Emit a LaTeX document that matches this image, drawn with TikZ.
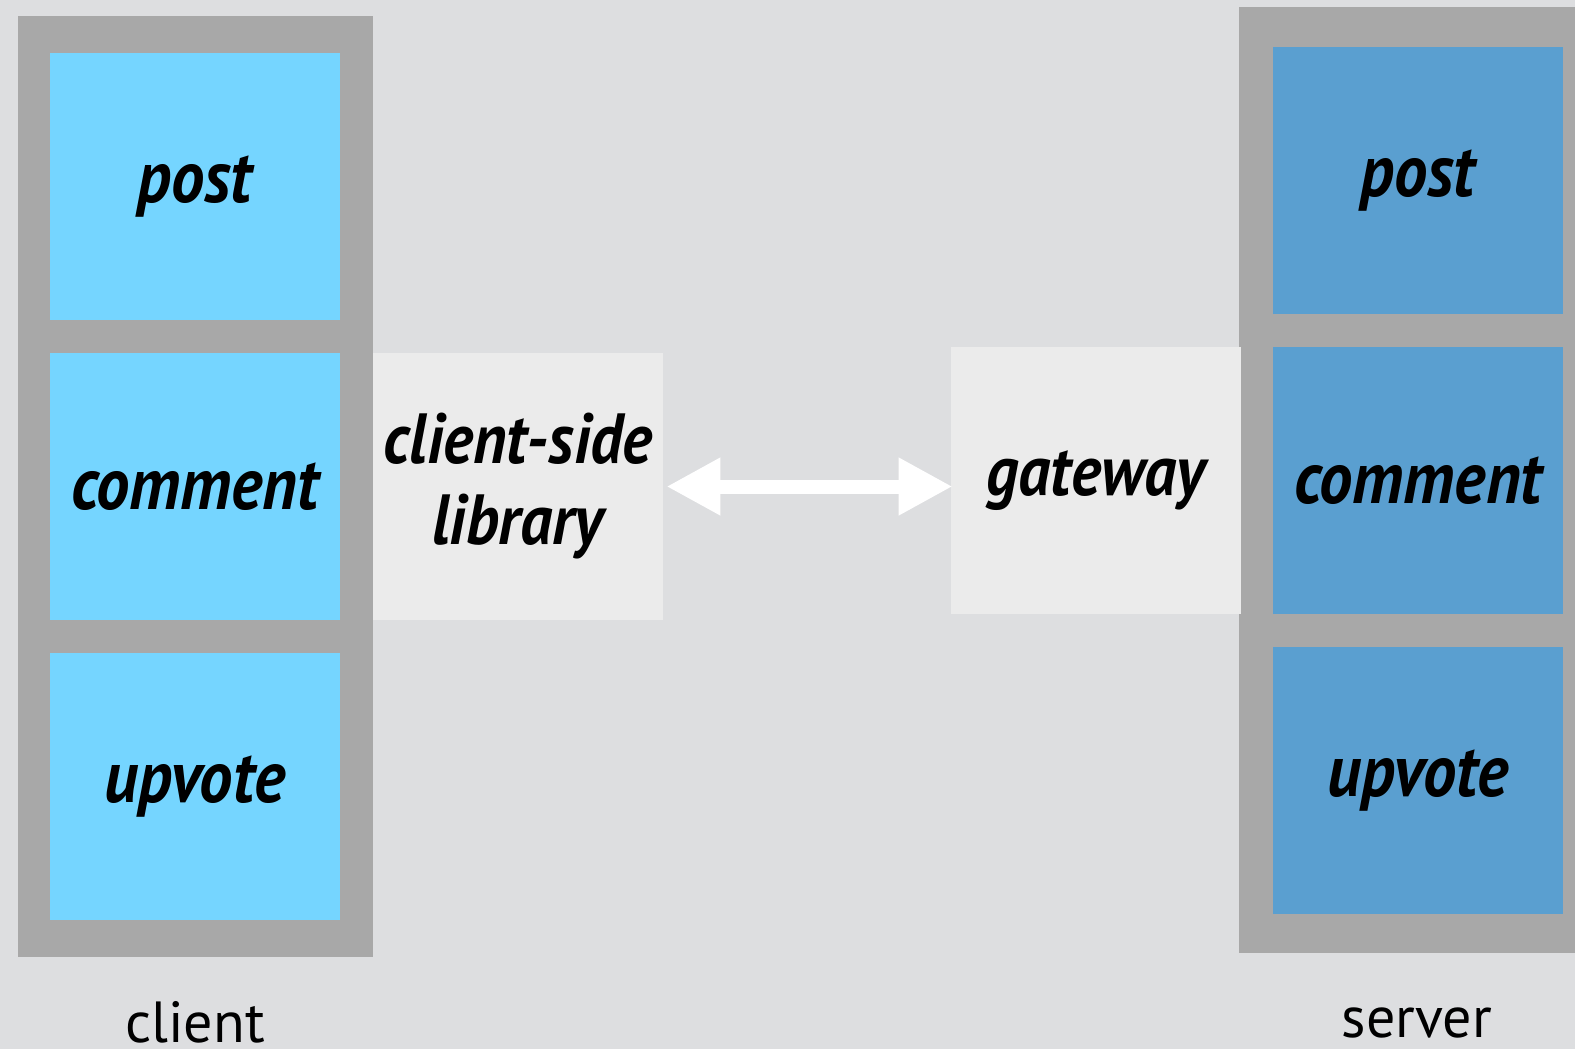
\documentclass[tikz,border=0pt]{standalone}
\usepackage{fontspec}
\setmainfont{PT Sans}
\newfontfamily\labfont[FakeStretch=0.9]{PT Sans}
\usetikzlibrary{arrows.meta}
\definecolor{bgc}{HTML}{DDDEE0}
\definecolor{frame}{HTML}{A8A8A8}
\definecolor{lblue}{HTML}{75D5FF}
\definecolor{dblue}{HTML}{5A9FD0}
\definecolor{libc}{HTML}{EBEBEB}
\tikzset{
  outer/.style={fill=frame, draw=none, inner sep=0pt, minimum width=177.5pt, minimum height=473pt},
  cbox/.style={fill=lblue, draw=none, inner sep=0pt, minimum width=145pt, minimum height=133.5pt, font=\labfont\bfseries\itshape\fontsize{37}{40}\selectfont},
  sbox/.style={cbox, fill=dblue},
  midbox/.style={fill=libc, draw=none, inner sep=0pt, minimum width=145pt, minimum height=133.5pt, align=center, font=\labfont\bfseries\itshape\fontsize{35.5}{40.5}\selectfont},
  sidelabel/.style={anchor=base, font=\fontsize{29}{32}\selectfont},
  link/.style={draw=white, line width=7pt, {Triangle[length=27pt,width=27pt]}-{Triangle[length=27pt,width=27pt]}}
}
\begin{document}
\begin{tikzpicture}[x=0.5pt,y=-0.5pt]
\fill[bgc] (0,0) rectangle (1575,1049);
\useasboundingbox (0,0) rectangle (1575,1049);
% client column
\node[outer, minimum height=470.5pt] (cframe) at (195.5,486.5) {};
\node[cbox] (cpost) at (195,186.5) {post};
\node[cbox] (ccomment) at (195,486.5) {comment};
\node[cbox] (cupvote) at (195,786.5) {upvote};
\node[sidelabel] (clabel) at (195,1042) {client};
% server column
\node[outer] (sframe) at (1416,480) {};
\node[sbox] (spost) at (1418,180.5) {post};
\node[sbox] (scomment) at (1418,480.5) {comment};
\node[sbox] (supvote) at (1418,780.5) {upvote};
\node[sidelabel] (slabel) at (1417,1037) {server};
% middle
\node[midbox] (lib) at (518,486.5) {client-side\\library};
\node[midbox] (gw) at (1096,480.5) {gateway};
\draw[link] ([xshift=1.5pt]lib.east) -- ([xshift=1pt]lib.east -| gw.west);
\end{tikzpicture}
\end{document}
